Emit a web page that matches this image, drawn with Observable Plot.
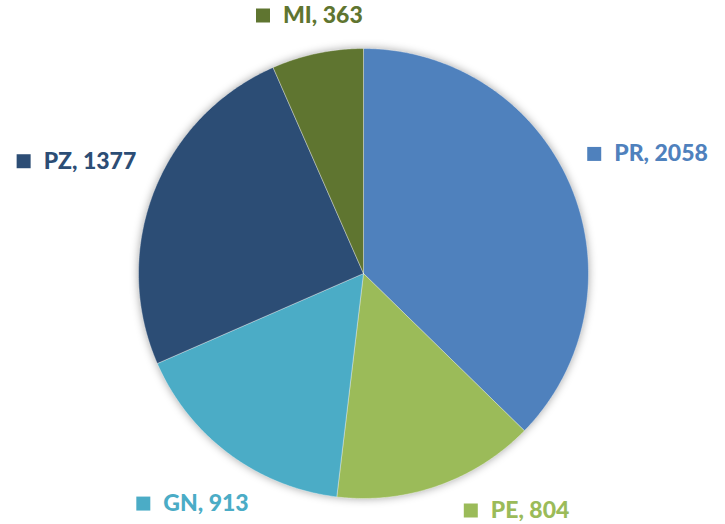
<!DOCTYPE html>
<html><head><meta charset="utf-8">
<script src="https://cdn.jsdelivr.net/npm/d3@7"></script>
<script src="https://cdn.jsdelivr.net/npm/@observablehq/plot@0.6"></script>
<style>body{margin:0;background:#fff;overflow:hidden}</style>
</head><body><div id="chart"></div>
<script>
const categories = ["PR", "PE", "GN", "PZ", "MI"];
const values = [2058, 804, 913, 1377, 363];
const colors = ["#4F81BD", "#9BBB59", "#4BACC6", "#2C4D75", "#5F7530"];

const W = 725, H = 524, cx = 363, cy = 273, R = 225;
const FONT_SIZE = 23, FONT_WEIGHT = 900, FONT = "Lato, 'Open Sans', sans-serif";
const total = d3.sum(values);

let cum = 0;
const slices = categories.map((c, i) => {
  const a0 = cum / total * 2 * Math.PI; cum += values[i];
  const a1 = cum / total * 2 * Math.PI;
  return {c, v: values[i], a0, a1, mid: (a0 + a1) / 2};
});

const pts = [];
for (const s of slices) {
  pts.push({c: s.c, x: 0, y: 0});
  const n = Math.max(2, Math.ceil((s.a1 - s.a0) / (Math.PI / 360)));
  for (let k = 0; k <= n; k++) {
    const a = s.a0 + (s.a1 - s.a0) * k / n;
    pts.push({c: s.c, x: Math.sin(a), y: Math.cos(a)});
  }
  pts.push({c: s.c, x: 0, y: 0});
}

// label layout derived from slice mid-angle: nearest box corner kept at distance D from centre
const ctx = document.createElement("canvas").getContext("2d");
ctx.font = `${FONT_WEIGHT} ${FONT_SIZE}px Lato`;
const SQ = 14, GAP = 13, BH = 16, D = 250;
const labels = slices.map(s => {
  const text = `${s.c}, ${s.v}`;
  const tw = ctx.measureText(text).width;
  const w = SQ + GAP + tw;
  const ux = Math.sin(s.mid), uy = -Math.cos(s.mid);
  const ox = -Math.sign(ux) * w / 2, oy = -Math.sign(uy) * BH / 2;
  const b = ux * ox + uy * oy, c0 = ox * ox + oy * oy - D * D;
  const d = -b + Math.sqrt(b * b - c0);
  let px = cx + d * ux, py = cy + d * uy;
  const pyc = Math.max(BH / 2 + 5, Math.min(H - BH / 2 - 6, py));
  if (pyc !== py) {
    py = pyc;
    const vy = Math.abs(py - cy) - BH / 2;
    const hx = Math.sqrt(Math.max(0, D * D - vy * vy));
    px = cx + Math.sign(ux) * (hx + w / 2);
  }
  px = Math.max(w / 2 + 4, Math.min(W - w / 2 - 2, px));
  const left = px - w / 2;
  return {
    c: s.c, text,
    sx: (left + SQ / 2 - cx) / R, sy: (cy - py) / R,
    tx: (left + SQ + GAP - cx) / R, ty: (cy - py) / R
  };
});

const chart = Plot.plot({
  width: W, height: H, margin: 0,
  x: {domain: [-1, 1], range: [cx - R, cx + R], axis: null},
  y: {domain: [-1, 1], range: [cy + R, cy - R], axis: null},
  color: {domain: categories, range: colors},
  style: {background: "#fff"},
  marks: [
    Plot.line(pts, {x: "x", y: "y", z: "c", fill: "c", stroke: "#fff", strokeWidth: 0.6, strokeOpacity: 0.6, curve: "linear"}),
    Plot.dot(labels, {x: "sx", y: "sy", fill: "c", stroke: null, symbol: "square", r: SQ / Math.sqrt(Math.PI)}),
    Plot.text(labels, {x: "tx", y: "ty", text: "text", fill: "c", textAnchor: "start", lineAnchor: "middle",
      fontSize: FONT_SIZE, fontWeight: FONT_WEIGHT, fontFamily: FONT})
  ]
});
const lineG = chart.querySelector('g[aria-label="line"]');
if (lineG) lineG.style.filter = "drop-shadow(0px 0px 4px rgba(0,0,0,0.35))";
document.getElementById("chart").appendChild(chart);
</script>
</body></html>
